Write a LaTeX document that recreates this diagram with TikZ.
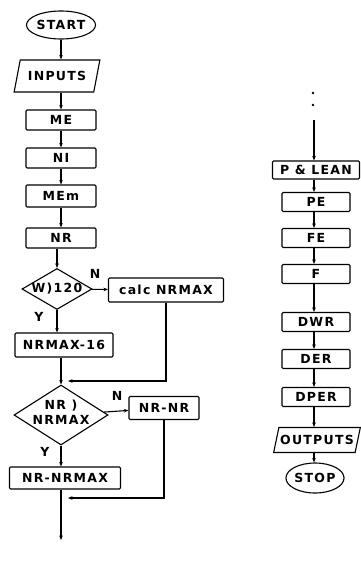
\documentclass[tikz,border=0pt]{standalone}
\usepackage{fontspec}
\setmainfont{DejaVu Sans}[LetterSpace=10]
\usetikzlibrary{arrows.meta,shapes.geometric}
\tikzset{
  lbl/.style={font=\bfseries\fontsize{12.5}{14}\selectfont, inner sep=0pt},
  box/.style={lbl, draw, rounded corners=1.2pt, line width=1.1pt},
  term/.style={lbl, draw, ellipse, line width=1.1pt},
  io/.style={lbl, draw, trapezium, trapezium stretches=true, line width=1.1pt},
  dia/.style={draw, diamond, line width=1.1pt, inner sep=0pt},
  arr/.style={-{Stealth[length=4.5pt,width=3.6pt]}, line width=1.1pt},
}
\begin{document}
\begin{tikzpicture}[x=1pt,y=-1pt]
\useasboundingbox (0,0) rectangle (361,578);

% ---- left column ----
\node[term, minimum width=58, minimum height=28] (start) at (61,25) {START};
\node[io, trapezium left angle=63, trapezium right angle=117,
      minimum width=86, minimum height=32] (inputs) at (57,76) {INPUTS};
\node[box, minimum width=70, minimum height=20] (me)  at (61,120) {ME};
\node[box, minimum width=70, minimum height=20] (ni)  at (61,158) {NI};
\node[box, minimum width=70, minimum height=22] (mem) at (61,196) {MEm};
\node[box, minimum width=70, minimum height=20] (nr)  at (61,238) {NR};

\node[dia, minimum width=70, minimum height=41] (d1) at (57,289) {};
\node[lbl] (d1t) at (d1) {W)120};
\node[box, minimum width=115, minimum height=24] (calc) at (166,290) {calc NRMAX};
\node[lbl] (n1) at (95,274) {N};
\node[lbl] (y1) at (39,317) {Y};
\node[box, minimum width=98, minimum height=24] (nrmax16) at (64,345) {NRMAX-16};

\node[dia, minimum width=94, minimum height=60] (d2) at (61,415) {};
\node[lbl, align=center] (d2t) at (61,412) {NR )\\[1pt]NRMAX};
\node[lbl] (n2) at (117,396) {N};
\node[box, minimum width=70, minimum height=23] (nrnr) at (164,408) {NR-NR};
\node[lbl] (y2) at (45,452) {Y};
\node[box, minimum width=111, minimum height=22] (nrnrmax) at (65,478) {NR-NRMAX};

\coordinate (m1) at (68,381);
\coordinate (m2) at (68,498);
\coordinate (out) at (61,540);

\draw[arr] (start) -- (start.south |- inputs.north);
\draw[arr] (inputs.south -| me.north) -- (me);
\draw[arr] (me) -- (ni);
\draw[arr] (ni) -- (mem);
\draw[arr] (mem) -- (nr);
\draw[arr] (nr.south -| d1.north) -- (d1);
\draw[arr] (d1) -- (calc);
\draw[arr] (d1.south) -- (d1.south |- nrmax16.north);
\draw[arr] (d2.north |- nrmax16.south) -- (d2.north);
\draw[arr] (calc.south) |- (m1);
\draw[arr] (d2) -- (nrnr);
\draw[arr] (d2.south) -- (d2.south |- nrnrmax.north);
\draw[arr] (out |- nrnrmax.south) -- (out);
\draw[arr] (nrnr.south) |- (m2);

% ---- right column ----
\fill (313,93) circle (1.4);
\fill (313,105) circle (1.4);
\coordinate (cont) at (314,120);
\node[box, minimum width=87, minimum height=18] (plean) at (316,170) {P \& LEAN};
\node[box, minimum width=68, minimum height=19] (pe)   at (316,202) {PE};
\node[box, minimum width=68, minimum height=19] (fe)   at (316,238) {FE};
\node[box, minimum width=68, minimum height=19] (f)    at (316,274) {F};
\node[box, minimum width=68, minimum height=19] (dwr)  at (316,322) {DWR};
\node[box, minimum width=68, minimum height=19] (der)  at (316,359) {DER};
\node[box, minimum width=68, minimum height=19] (dper) at (316,397) {DPER};
\node[io, trapezium left angle=62, trapezium right angle=118,
      minimum width=87, minimum height=25] (outputs) at (317,440) {OUTPUTS};
\node[term, minimum width=46, minimum height=30] (stop) at (315,478) {STOP};

\draw[arr] (cont) -- (cont |- plean.north);
\draw[arr] (cont |- plean.south) -- (cont |- pe.north);
\draw[arr] (cont |- pe.south) -- (cont |- fe.north);
\draw[arr] (cont |- fe.south) -- (cont |- f.north);
\draw[arr] (cont |- f.south) -- (cont |- dwr.north);
\draw[arr] (cont |- dwr.south) -- (cont |- der.north);
\draw[arr] (cont |- der.south) -- (cont |- dper.north);
\draw[arr] (cont |- dper.south) -- (cont |- outputs.north);
\draw[arr] (cont |- outputs.south) -- (cont |- stop.north);
\end{tikzpicture}
\end{document}
